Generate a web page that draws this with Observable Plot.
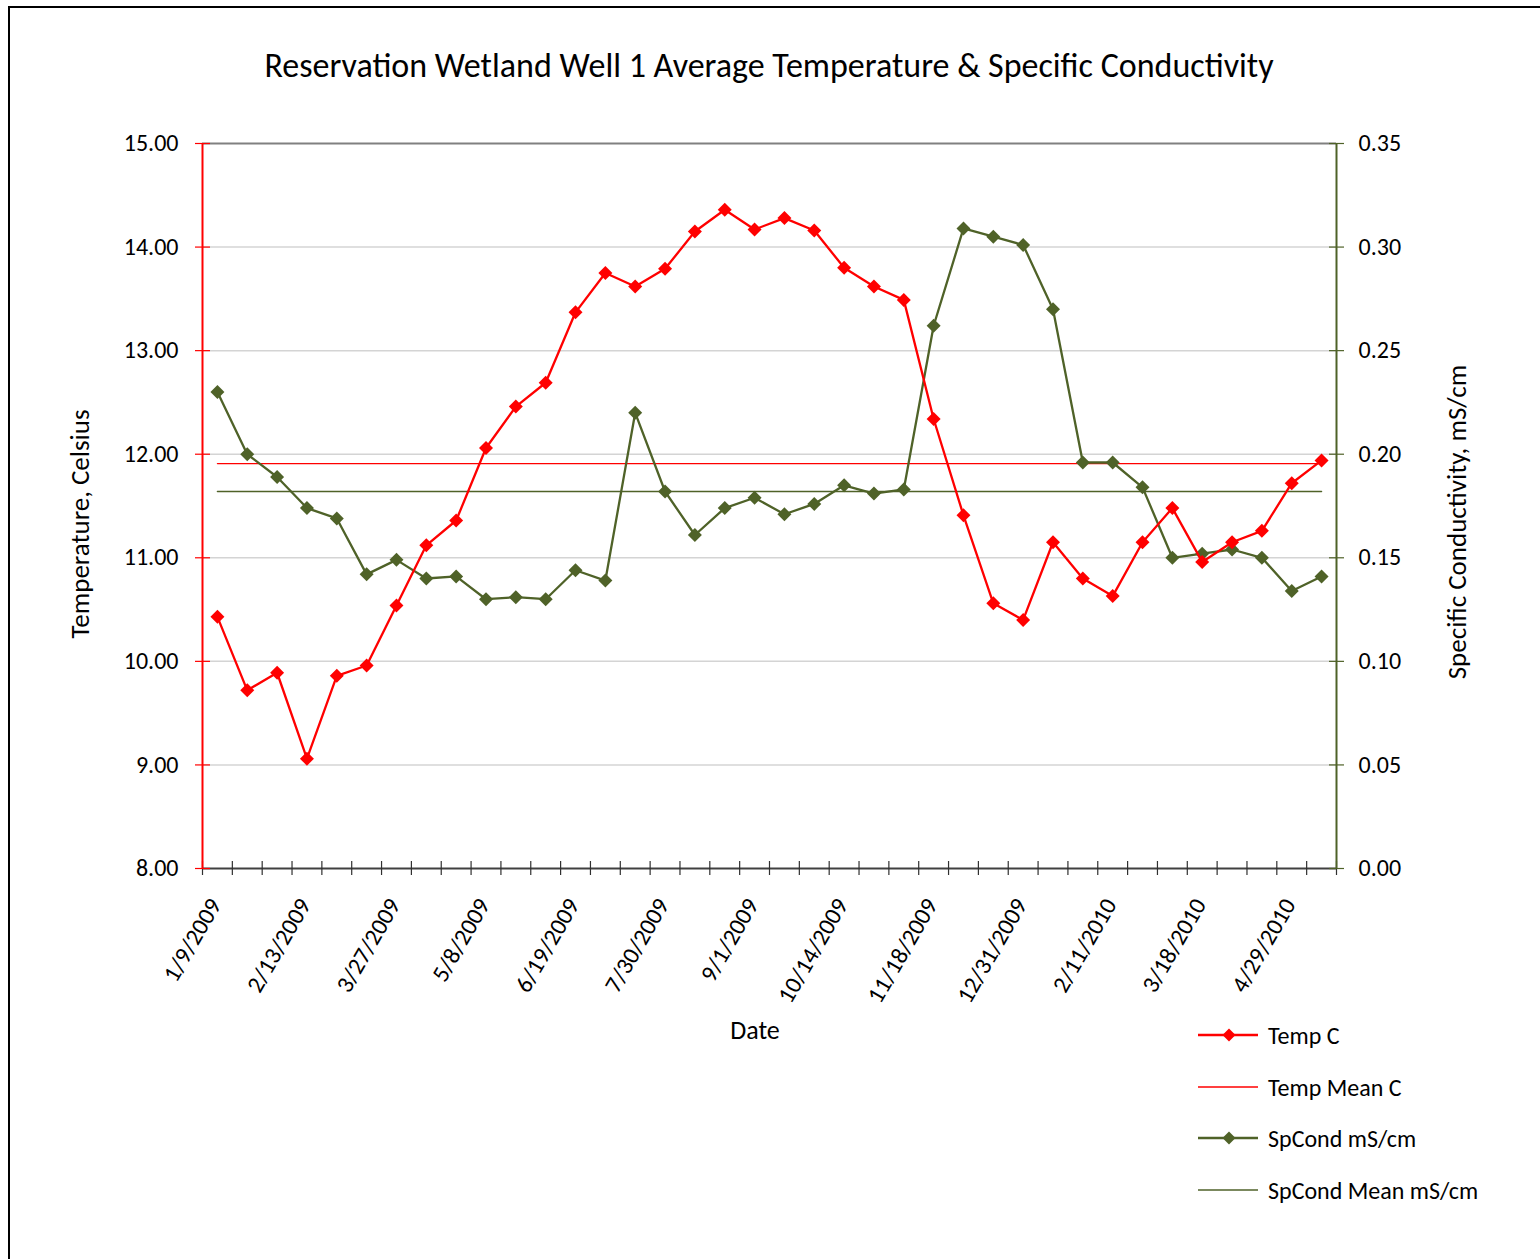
<!DOCTYPE html>
<html>
<head>
<meta charset="utf-8">
<script src="https://cdn.jsdelivr.net/npm/d3@7"></script>
<script src="https://cdn.jsdelivr.net/npm/@observablehq/plot@0.6"></script>
<style>
  html, body { margin: 0; padding: 0; background: #fff; }
  #wrap { position: relative; width: 1540px; height: 1259px; overflow: hidden; font-family: Carlito, Calibri, Lato, sans-serif; color: #000; }
  #frame { position: absolute; left: 8px; top: 6px; width: 1600px; height: 1400px; border-top: 2px solid #000; border-left: 2px solid #000; }
  .abs { position: absolute; white-space: nowrap; }
  #title { left: 0; width: 1538px; top: 45px; text-align: center; font-size: 34px; }
  .ytitle { font-size: 27px; transform: translate(-50%, -50%) rotate(-90deg); }
  #legend .row { position: absolute; left: 1198px; height: 28px; display: flex; align-items: center; font-size: 24px; }
  #legend svg { margin-right: 8px; }
</style>
</head>
<body>
<div id="wrap">
  <div id="frame"></div>
  <div id="chart"></div>
  <div id="title" class="abs">Reservation Wetland Well 1 Average Temperature &amp; Specific Conductivity</div>
  <div class="abs ytitle" style="left:79px; top:524px;">Temperature, Celsius</div>
  <div class="abs ytitle" style="left:1456px; top:522px;">Specific Conductivity, mS/cm</div>
  <div class="abs" style="left:755px; top:1030px; transform: translate(-50%,-50%); font-size:26px;">Date</div>
  <div id="legend"></div>
</div>
<script>
// ---- data ----
const tempC = [10.43, 9.72, 9.89, 9.06, 9.86, 9.96, 10.54, 11.12, 11.36, 12.06, 12.46, 12.69, 13.37, 13.75, 13.62, 13.79, 14.15, 14.36, 14.17, 14.28, 14.16, 13.80, 13.62, 13.49, 12.34, 11.41, 10.56, 10.40, 11.15, 10.80, 10.63, 11.15, 11.48, 10.96, 11.15, 11.26, 11.72, 11.94];
const spCond = [0.230, 0.200, 0.189, 0.174, 0.169, 0.142, 0.149, 0.140, 0.141, 0.130, 0.131, 0.130, 0.144, 0.139, 0.220, 0.182, 0.161, 0.174, 0.179, 0.171, 0.176, 0.185, 0.181, 0.183, 0.262, 0.309, 0.305, 0.301, 0.270, 0.196, 0.196, 0.184, 0.150, 0.152, 0.154, 0.150, 0.134, 0.141];
const tempMeanC = 11.91;
const spCondMean = 0.182;
const dateTickLabels = ["1/9/2009", "2/13/2009", "3/27/2009", "5/8/2009", "6/19/2009", "7/30/2009", "9/1/2009", "10/14/2009", "11/18/2009", "12/31/2009", "2/11/2010", "3/18/2010", "4/29/2010"];
const labelEvery = 3;
const tempTicks = [8, 9, 10, 11, 12, 13, 14, 15];
const condTicks = [0.00, 0.05, 0.10, 0.15, 0.20, 0.25, 0.30, 0.35];

// ---- helpers ----
const RED = "#ff0000";
const OLIVE = "#4f6228";
const nCat = tempC.length;
// secondary axis maps 0..0.35 onto 8..15
const condToTemp = v => 8 + v / 0.05;

const rows = tempC.map((t, i) => ({i, x: i + 0.5, temp: t, cond: spCond[i], condY: condToTemp(spCond[i])}));
const labelRows = dateTickLabels.map((lab, k) => ({lab, x: k * labelEvery + 0.5}));

const chart = Plot.plot({
  width: 1540,
  height: 1259,
  marginTop: 143,
  marginBottom: 391,
  marginLeft: 202,
  marginRight: 204,
  style: {fontFamily: "Carlito, Calibri, Lato, sans-serif", fontSize: "24px", color: "#000", background: "transparent"},
  x: {domain: [0, nCat], axis: null},
  y: {domain: [8, 15], axis: null},
  marks: [
    // gridlines
    Plot.ruleY(tempTicks.slice(1, -1), {stroke: "#d4d4d4", strokeWidth: 1.5}),
    Plot.ruleY([15], {stroke: "#808080", strokeWidth: 2}),
    // mean lines
    Plot.lineY(rows, {x: "x", y: () => tempMeanC, stroke: RED, strokeWidth: 1.3}),
    Plot.lineY(rows, {x: "x", y: () => condToTemp(spCondMean), stroke: OLIVE, strokeWidth: 1.4}),
    // series
    Plot.line(rows, {x: "x", y: "condY", stroke: OLIVE, strokeWidth: 2.3}),
    Plot.dot(rows, {x: "x", y: "condY", symbol: "diamond2", r: 6.3, fill: OLIVE, stroke: "none"}),
    Plot.line(rows, {x: "x", y: "temp", stroke: RED, strokeWidth: 2.3}),
    Plot.dot(rows, {x: "x", y: "temp", symbol: "diamond2", r: 6.3, fill: RED, stroke: "none"}),
    // bottom axis: line + cross ticks
    Plot.ruleY([8], {stroke: "#404040", strokeWidth: 2}),
    Plot.axisX({ticks: d3.range(0, nCat + 1), tickSize: 14, dy: -7, tickFormat: () => "", label: null, stroke: "#303030", strokeWidth: 1.2}),
    Plot.text(labelRows, {x: "x", y: () => 8, text: "lab", rotate: -60, textAnchor: "end", dy: 32, dx: -2, fontSize: 24, fill: "#000"}),
    // left axis
    Plot.ruleX([0], {stroke: RED, strokeWidth: 2}),
    Plot.axisY({anchor: "left", ticks: tempTicks, tickSize: 15, dx: 8, tickFormat: () => "", label: null, stroke: RED, strokeWidth: 1.2}),
    Plot.axisY({anchor: "left", ticks: tempTicks, tickSize: 0, tickPadding: 24, tickFormat: d => d.toFixed(2), label: null, fontSize: 24, fill: "#000"}),
    // right axis (secondary, SpCond)
    Plot.ruleX([nCat], {stroke: OLIVE, strokeWidth: 2}),
    Plot.axisY({anchor: "right", ticks: condTicks.map(condToTemp), tickSize: 15, dx: -8, tickFormat: () => "", label: null, stroke: OLIVE, strokeWidth: 1.2}),
    Plot.axisY({anchor: "right", ticks: condTicks.map(condToTemp), tickSize: 0, tickPadding: 22, tickFormat: (d, k) => condTicks[k].toFixed(2), label: null, fontSize: 24, fill: "#000"})
  ]
});
document.getElementById("chart").appendChild(chart);

// ---- legend ----
const legendItems = [
  {label: "Temp C", color: RED, marker: true, w: 2.3, y: 1035},
  {label: "Temp Mean C", color: RED, marker: false, w: 1.3, y: 1087},
  {label: "SpCond mS/cm", color: OLIVE, marker: true, w: 2.3, y: 1138},
  {label: "SpCond Mean mS/cm", color: OLIVE, marker: false, w: 1.4, y: 1190}
];
const legend = document.getElementById("legend");
for (const it of legendItems) {
  const row = document.createElement("div");
  row.className = "row";
  row.style.top = (it.y - 14) + "px";
  row.innerHTML = `<svg width="62" height="16"><line x1="0" x2="60" y1="8" y2="8" stroke="${it.color}" stroke-width="${it.w}"/>` +
    (it.marker ? `<path d="M31,1.5 L37.5,8 L31,14.5 L24.5,8 Z" fill="${it.color}"/>` : "") + `</svg><span>${it.label}</span>`;
  legend.appendChild(row);
}
</script>
</body>
</html>
